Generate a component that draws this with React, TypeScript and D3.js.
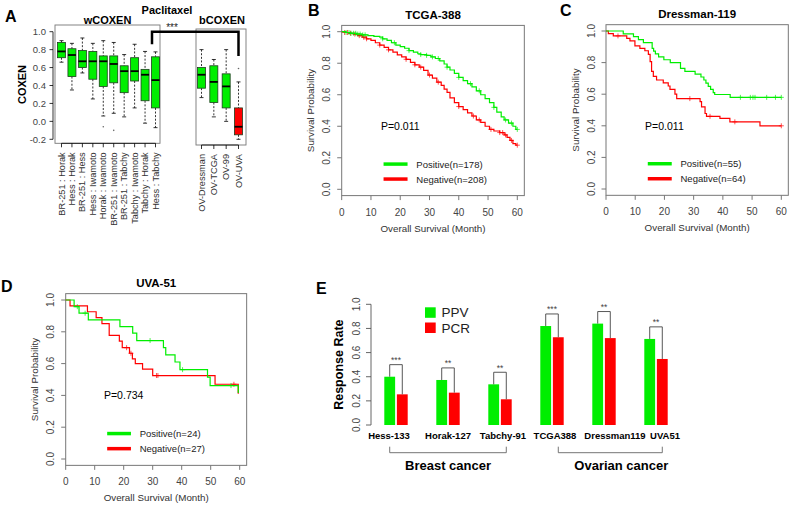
import React from 'react';
import * as d3 from 'd3';

const FONT = '"Liberation Sans", Arial, Helvetica, sans-serif';
const GREEN = '#00ee00';
const RED = '#ff0000';
const AXIS_GRAY = '#777';
const TEXT_GRAY = '#444';

// ---------- Panel A: COXEN boxplots ----------
const wNames = [
  'BR-251 : Horak', 'Hess : Horak', 'BR-251 : Hess', 'Hess : Iwamoto', 'Horak : Iwamoto',
  'BR-251 : Iwamoto', 'BR-251 : Tabchy', 'Tabchy : Iwamoto', 'Tabchy : Horak', 'Hess : Tabchy',
];
// [low whisker, Q1, median, Q3, high whisker]
const wBoxes = [
  [0.66, 0.71, 0.78, 0.88, 0.9],
  [0.35, 0.5, 0.74, 0.81, 0.87],
  [0.54, 0.6, 0.67, 0.79, 0.93],
  [0.25, 0.47, 0.67, 0.78, 0.87],
  [0.06, 0.39, 0.67, 0.73, 0.9],
  [0.09, 0.43, 0.64, 0.73, 0.88],
  [0.05, 0.32, 0.56, 0.62, 0.745],
  [0.15, 0.45, 0.56, 0.71, 0.86],
  [-0.02, 0.23, 0.52, 0.58, 0.78],
  [-0.07, 0.15, 0.46, 0.72, 0.775],
];
const wOutliers: [string, number][] = [['Horak : Iwamoto', -0.06], ['BR-251 : Iwamoto', -0.1]];

const bNames = ['OV-Dressman', 'OV-TCGA', 'OV-99', 'OV-UVA'];
const bBoxes = [
  [0.265, 0.37, 0.52, 0.6, 0.8],
  [0.05, 0.21, 0.44, 0.62, 0.69],
  [0.0, 0.15, 0.39, 0.53, 0.8],
  [-0.2, -0.15, -0.06, 0.15, 0.44],
];
const bOutliers: [string, number][] = [['OV-UVA', 0.59]];
const bNegative = 'OV-UVA';
const aTicks = [-0.2, 0, 0.2, 0.4, 0.6, 0.8, 1.0];

// ---------- Panels B-D: Kaplan-Meier (month, survival) steps ----------
type Step = [number, number];
const tcgaPos: Step[] = [
  [0, 1], [1.5, 0.995], [3, 0.99], [5, 0.985], [7, 0.98], [9, 0.975], [11, 0.97], [13, 0.965],
  [14, 0.955], [15.5, 0.945], [17, 0.93], [18.5, 0.915], [20, 0.905], [21.5, 0.895], [23, 0.88],
  [24.5, 0.87], [26, 0.86], [27, 0.855], [29, 0.85], [30.5, 0.84], [32, 0.83], [33.5, 0.815],
  [35, 0.795], [36, 0.775], [37, 0.757], [38.5, 0.735], [40, 0.71], [41.5, 0.69], [43, 0.67],
  [44.5, 0.65], [46, 0.625], [47.5, 0.6], [49, 0.575], [50.5, 0.55], [52, 0.52], [53, 0.49],
  [54.5, 0.46], [55.5, 0.44], [57, 0.42], [58.5, 0.4], [59.5, 0.38],
];
const tcgaNeg: Step[] = [
  [0, 1], [1, 0.995], [2.5, 0.99], [4, 0.985], [5.5, 0.975], [7, 0.965], [8.5, 0.955], [10, 0.945],
  [11.5, 0.93], [13, 0.915], [14.5, 0.9], [16, 0.885], [17.5, 0.87], [19, 0.853], [20.5, 0.84],
  [22, 0.825], [23.5, 0.805], [25, 0.79], [26.5, 0.775], [28, 0.755], [29.5, 0.725], [31, 0.705],
  [32.5, 0.68], [34, 0.66], [35, 0.635], [36, 0.615], [37, 0.58], [38.5, 0.55], [40, 0.525],
  [41.5, 0.505], [43, 0.485], [44.5, 0.465], [46, 0.44], [47.5, 0.425], [49, 0.4], [50.5, 0.38],
  [52, 0.37], [54, 0.36], [55.5, 0.345], [56.5, 0.33], [57.5, 0.31], [58.5, 0.29], [59.5, 0.28],
];
const tcgaPosCens = [1.5, 2.5, 3.2, 4, 4.8, 5.5, 6.3, 7.2, 8, 14, 18, 23, 27, 29, 31, 33, 36, 40, 44, 47, 52, 56, 58, 60];
const tcgaNegCens = [1, 2, 3, 4.5, 6, 7.5, 8.5, 13, 16, 22, 25, 27, 30, 33, 40, 45, 47, 51, 54, 55, 56, 58, 60];

const dressPos: Step[] = [
  [0, 1], [5.9, 0.982], [9.4, 0.964], [11.1, 0.945], [12.8, 0.927], [15.8, 0.89], [16.3, 0.873],
  [16.9, 0.855], [18, 0.836], [19.8, 0.818], [22, 0.8], [25.5, 0.764], [27, 0.745], [30.5, 0.727],
  [32.5, 0.709], [33.5, 0.69], [34.2, 0.67], [35, 0.65], [35.8, 0.63], [36.7, 0.61], [37.2, 0.598],
  [42.5, 0.58],
];
const dressNeg: Step[] = [
  [0, 1], [0.8, 0.984], [2.5, 0.969], [7.1, 0.953], [8.2, 0.937], [9.9, 0.906], [11.6, 0.89],
  [13.3, 0.875], [14.5, 0.852], [15.1, 0.806], [15.6, 0.744], [16.2, 0.713], [17.3, 0.69],
  [19.6, 0.672], [21.3, 0.652], [21.9, 0.63], [23.6, 0.6], [24.2, 0.572], [32.2, 0.553],
  [32.7, 0.52], [33.9, 0.478], [34.4, 0.46], [39, 0.447], [42.4, 0.425], [52.7, 0.4],
];
const dressPosCens = [46, 49.4, 50.3, 51, 55, 58, 60];
const dressNegCens = [4.1, 28.7, 35.6, 44.1, 60];

const uvaPos: Step[] = [
  [0, 1], [2.9, 0.958], [4.6, 0.917], [7.8, 0.875], [18.7, 0.833], [23.1, 0.792], [24.5, 0.745],
  [33.7, 0.7], [34.5, 0.655], [37.7, 0.61], [39.4, 0.562], [48.9, 0.515], [49.8, 0.462], [59.5, 0.415],
];
const uvaNeg: Step[] = [
  [0, 1], [1.5, 0.963], [7.5, 0.926], [10.5, 0.889], [12.5, 0.852], [15, 0.778], [18.5, 0.741],
  [19.5, 0.7], [22, 0.665], [23, 0.63], [24, 0.6], [26.5, 0.565], [30, 0.525], [51.5, 0.47], [59.5, 0.41],
];
const uvaPosCens = [4, 6.7, 29.1, 40.3, 57];
const uvaNegCens = [21, 22.5, 31.3, 31.8, 58];

const kmTicksX = [0, 10, 20, 30, 40, 50, 60];
const kmTicksY = [0, 0.2, 0.4, 0.6, 0.8, 1.0];

// ---------- Panel E: response rates ----------
const cohorts = ['Hess-133', 'Horak-127', 'Tabchy-91', 'TCGA388', 'Dressman119', 'UVA51'];
const ppv = [0.4, 0.373, 0.337, 0.82, 0.84, 0.713];
const pcr = [0.254, 0.268, 0.213, 0.727, 0.72, 0.547];
const sigMarks = ['***', '**', '**', '***', '**', '**'];
const breastCohorts = ['Hess-133', 'Horak-127', 'Tabchy-91'];
const ovarianCohorts = ['TCGA388', 'Dressman119', 'UVA51'];
const eTicks = [0, 0.2, 0.4, 0.6, 0.8, 1.0];

const fmt1 = (v: number) => v.toFixed(1);

function survAt(steps: Step[], t: number) {
  let s = 1;
  for (const [tt, v] of steps) if (tt <= t) s = v;
  return s;
}

function Letter({ x, y, children }: { x: number; y: number; children: string }) {
  return (
    <text x={x} y={y} fontSize={16} fontWeight="bold" fill="#000">
      {children}
    </text>
  );
}

function BoxGroup({ names, boxes, outliers, x, y, negative }: any) {
  const bw = 8;
  return (
    <g>
      {names.map((n: string, i: number) => {
        const [lo, q1, md, q3, hi] = boxes[i];
        const cx = x(n);
        const fill = n === negative ? RED : GREEN;
        return (
          <g key={n}>
            <line x1={cx} x2={cx} y1={y(hi)} y2={y(q3)} stroke="#000" strokeWidth={0.8} strokeDasharray="2,1.6" />
            <line x1={cx} x2={cx} y1={y(q1)} y2={y(lo)} stroke="#000" strokeWidth={0.8} strokeDasharray="2,1.6" />
            <line x1={cx - 2} x2={cx + 2} y1={y(hi)} y2={y(hi)} stroke="#000" strokeWidth={0.8} />
            <line x1={cx - 2} x2={cx + 2} y1={y(lo)} y2={y(lo)} stroke="#000" strokeWidth={0.8} />
            <rect x={cx - bw / 2} y={y(q3)} width={bw} height={y(q1) - y(q3)} fill={fill} stroke="#1d3d1d" strokeWidth={0.8} />
            <line x1={cx - bw / 2} x2={cx + bw / 2} y1={y(md)} y2={y(md)} stroke="#000" strokeWidth={1.8} />
          </g>
        );
      })}
      {outliers.map(([n, v]: [string, number], i: number) => (
        <circle key={i} cx={x(n)} cy={y(v)} r={0.8} fill="#666" />
      ))}
    </g>
  );
}

function XLabels({ names, x, axisY }: any) {
  const xs = names.map((n: string) => x(n));
  return (
    <g>
      <line x1={xs[0]} x2={xs[xs.length - 1]} y1={axisY} y2={axisY} stroke="#000" strokeWidth={0.8} />
      {names.map((n: string) => (
        <g key={n}>
          <line x1={x(n)} x2={x(n)} y1={axisY} y2={axisY + 4} stroke="#000" strokeWidth={0.8} />
          <text
            transform={`translate(${x(n)},${axisY + 9}) rotate(-90)`}
            textAnchor="end"
            dominantBaseline="central"
            fontSize={9.2}
            fill="#333"
          >
            {n}
          </text>
        </g>
      ))}
    </g>
  );
}

function PanelA() {
  const y = d3.scaleLinear().domain([-0.2, 1.0]).range([139.3, 31.7]);
  const xW = d3.scalePoint<string>().domain(wNames).range([61.5, 155.5]);
  const xB = d3.scalePoint<string>().domain(bNames).range([201.5, 238.5]);
  const wFrame = { l: 55, r: 160, t: 25, b: 143.3 };
  const bFrame = { l: 196, r: 246, t: 29, b: 145 };
  const bracketY = y(1.0);
  const lastW = xW(wNames[wNames.length - 1])! - 3.5;
  const uva = xB(bNegative)!;
  return (
    <g>
      <Letter x={5} y={21.5}>A</Letter>
      <text x={167} y={14} textAnchor="middle" fontSize={11} fontWeight="bold">Paclitaxel</text>
      <text x={(wFrame.l + wFrame.r) / 2} y={23.5} textAnchor="middle" fontSize={11} fontWeight="bold">wCOXEN</text>
      <text x={(bFrame.l + bFrame.r) / 2 + 1} y={23.5} textAnchor="middle" fontSize={11} fontWeight="bold">bCOXEN</text>
      <rect x={wFrame.l} y={wFrame.t} width={wFrame.r - wFrame.l} height={wFrame.b - wFrame.t} fill="none" stroke={AXIS_GRAY} strokeWidth={0.9} />
      <rect x={bFrame.l} y={bFrame.t} width={bFrame.r - bFrame.l} height={bFrame.b - bFrame.t} fill="none" stroke={AXIS_GRAY} strokeWidth={0.9} />
      {/* y axis */}
      <line x1={53} x2={53} y1={y(1.0)} y2={y(-0.2)} stroke="#000" strokeWidth={0.8} />
      {aTicks.map((t) => (
        <g key={t}>
          <line x1={49.5} x2={53} y1={y(t)} y2={y(t)} stroke="#000" strokeWidth={0.8} />
          <text x={46} y={y(t)} textAnchor="end" dominantBaseline="central" fontSize={9.5} fill={TEXT_GRAY}>
            {fmt1(t)}
          </text>
        </g>
      ))}
      <text transform={`translate(22,${(y(1.0) + y(-0.2)) / 2 - 1}) rotate(-90)`} textAnchor="middle" dominantBaseline="central" fontSize={11} fontWeight="bold">
        COXEN
      </text>
      <BoxGroup names={wNames} boxes={wBoxes} outliers={wOutliers} x={xW} y={y} />
      <BoxGroup names={bNames} boxes={bBoxes} outliers={bOutliers} x={xB} y={y} negative={bNegative} />
      <XLabels names={wNames} x={xW} axisY={wFrame.b} />
      <XLabels names={bNames} x={xB} axisY={bFrame.b} />
      {/* significance bracket */}
      <path
        d={`M${lastW},${y(0.86)} V${bracketY} H${uva} V${y(0.73)}`}
        fill="none"
        stroke="#000"
        strokeWidth={2.5}
      />
      <text x={172} y={31} textAnchor="middle" fontSize={10} fill="#222">***</text>
    </g>
  );
}

function KMPanel(props: {
  xr: [number, number];
  yr: [number, number];
  title: string;
  pos: Step[];
  neg: Step[];
  posCens: number[];
  negCens: number[];
  posLabel: string;
  negLabel: string;
  pLabel: string;
}) {
  const { xr, yr, title, pos, neg, posCens, negCens, posLabel, negLabel, pLabel } = props;
  const x = d3.scaleLinear().domain([0, 60]).range(xr);
  const y = d3.scaleLinear().domain([0, 1]).range(yr);
  const left = x(0);
  const right = x(62.4);
  const top = y(1.04);
  const bottom = y(-0.04);
  const line = d3
    .line<Step>()
    .x((d) => x(d[0]))
    .y((d) => y(d[1]))
    .curve(d3.curveStepAfter);
  const extend = (steps: Step[], cens: number[]): Step[] => {
    const last = steps[steps.length - 1];
    const end = Math.max(d3.max(cens) ?? 0, last[0]);
    return [...steps, [end, last[1]]];
  };
  const curves = [
    { steps: neg, cens: negCens, color: RED },
    { steps: pos, cens: posCens, color: GREEN },
  ];
  return (
    <g>
      <text x={(left + right) / 2} y={top - 6.5} textAnchor="middle" fontSize={11.5} fontWeight="bold">
        {title}
      </text>
      <rect x={left} y={top} width={right - left} height={bottom - top} fill="none" stroke={AXIS_GRAY} strokeWidth={1} />
      {kmTicksX.map((t) => (
        <g key={t}>
          <line x1={x(t)} x2={x(t)} y1={bottom} y2={bottom + 4.5} stroke={AXIS_GRAY} />
          <text x={x(t)} y={bottom + 20} textAnchor="middle" fontSize={10} fill={TEXT_GRAY}>
            {t}
          </text>
        </g>
      ))}
      {kmTicksY.map((t) => (
        <g key={t}>
          <line x1={left - 4.5} x2={left} y1={y(t)} y2={y(t)} stroke={AXIS_GRAY} />
          <text transform={`translate(${left - 15},${y(t)}) rotate(-90)`} textAnchor="middle" dominantBaseline="central" fontSize={10} fill={TEXT_GRAY}>
            {fmt1(t)}
          </text>
        </g>
      ))}
      <text transform={`translate(${left - 31},${(top + bottom) / 2}) rotate(-90)`} textAnchor="middle" dominantBaseline="central" fontSize={9.8} fill="#333">
        Survival Probability
      </text>
      <text x={(left + right) / 2} y={bottom + 36} textAnchor="middle" fontSize={9.8} fill="#333">
        Overall Survival (Month)
      </text>
      {curves.map((c, i) => (
        <g key={i}>
          <path d={line(extend(c.steps, c.cens)) ?? ''} fill="none" stroke={c.color} strokeWidth={1.2} />
          {c.cens.map((t, j) => {
            const cx = x(t);
            const cy = y(survAt(c.steps, t));
            return (
              <path key={j} d={`M${cx - 2.5},${cy}H${cx + 2.5}M${cx},${cy - 2.5}V${cy + 2.5}`} stroke={c.color} strokeWidth={0.8} opacity={0.85} />
            );
          })}
        </g>
      ))}
      <text x={x(20)} y={y(0.4)} textAnchor="middle" dominantBaseline="central" fontSize={10.5}>
        {pLabel}
      </text>
      {[
        { label: posLabel, color: GREEN, v: 0.16 },
        { label: negLabel, color: RED, v: 0.065 },
      ].map((l) => (
        <g key={l.label}>
          <line x1={x(14.3)} x2={x(22.5)} y1={y(l.v)} y2={y(l.v)} stroke={l.color} strokeWidth={3.5} />
          <text x={x(25.5)} y={y(l.v)} dominantBaseline="central" fontSize={9.5} fill="#222">
            {l.label}
          </text>
        </g>
      ))}
    </g>
  );
}

function PanelE() {
  const x = d3.scaleBand<string>().domain(cohorts).range([370, 682]);
  const sub = d3.scaleBand<string>().domain(['PPV', 'PCR']).range([-11.7, 11.7]).paddingInner(0.14);
  const y = d3.scaleLinear().domain([0, 1]).range([425, 304.3]);
  const axisX = 371;
  const cx = (c: string) => x(c)! + x.bandwidth() / 2;
  // label placement in the original is not exactly centred on each group
  const labelNudge: Record<string, number> = {
    'Hess-133': -7, 'Horak-127': 0, 'Tabchy-91': 3, TCGA388: 3, Dressman119: 11, UVA51: 9,
  };
  const groups = [
    { name: 'Breast cancer', members: breastCohorts, from: 'PPV', to: 'PCR', shift: 0 },
    { name: 'Ovarian cancer', members: ovarianCohorts, from: 'PCR', to: 'PCR', shift: 11 },
  ];
  const bracketY = 452.7;
  return (
    <g>
      <Letter x={316} y={294}>E</Letter>
      <line x1={axisX} x2={axisX} y1={y(0)} y2={y(1)} stroke="#555" strokeWidth={0.9} />
      {eTicks.map((t) => (
        <g key={t}>
          <line x1={axisX - 5} x2={axisX} y1={y(t)} y2={y(t)} stroke="#555" strokeWidth={0.9} />
          <text transform={`translate(${axisX - 14.5},${y(t)}) rotate(-90)`} textAnchor="middle" dominantBaseline="central" fontSize={10} fill={TEXT_GRAY}>
            {fmt1(t)}
          </text>
        </g>
      ))}
      <text transform={`translate(${axisX - 32},${y(0.5)}) rotate(-90)`} textAnchor="middle" dominantBaseline="central" fontSize={12.5} fontWeight="bold">
        Response Rate
      </text>
      {cohorts.map((c, i) => {
        const gx = cx(c);
        const px = gx + sub('PPV')! + sub.bandwidth() / 2;
        const rx = gx + sub('PCR')! + sub.bandwidth() / 2;
        const top = y(ppv[i] + 0.1);
        return (
          <g key={c}>
            <rect x={gx + sub('PPV')!} y={y(ppv[i])} width={sub.bandwidth()} height={y(0) - y(ppv[i])} fill={GREEN} />
            <rect x={gx + sub('PCR')!} y={y(pcr[i])} width={sub.bandwidth()} height={y(0) - y(pcr[i])} fill={RED} />
            <path d={`M${px},${y(ppv[i])} V${top} H${rx} V${y(pcr[i])}`} fill="none" stroke="#444" strokeWidth={0.9} />
            <text x={(px + rx) / 2} y={top - 1.5} textAnchor="middle" fontSize={8.5} fill="#444">
              {sigMarks[i]}
            </text>
            <text x={gx + (labelNudge[c] ?? 0)} y={y(0) + 14} textAnchor="middle" fontSize={9.5} fontWeight="bold">
              {c}
            </text>
          </g>
        );
      })}
      {groups.map((g) => {
        const a = cx(g.members[0]) + sub(g.from)! + sub.bandwidth() / 2;
        const b = cx(g.members[g.members.length - 1]) + sub(g.to)! + sub.bandwidth() / 2;
        return (
          <g key={g.name}>
            <path d={`M${a},${bracketY - 6} V${bracketY} H${b} V${bracketY - 6}`} fill="none" stroke="#666" strokeWidth={0.9} />
            <text x={(a + b) / 2 + g.shift} y={bracketY + 17.5} textAnchor="middle" fontSize={13} fontWeight="bold">
              {g.name}
            </text>
          </g>
        );
      })}
      {[
        { label: 'PPV', color: GREEN, yy: 307.3 },
        { label: 'PCR', color: RED, yy: 322.5 },
      ].map((l) => (
        <g key={l.label}>
          <rect x={425} y={l.yy} width={10.7} height={10.5} fill={l.color} />
          <text x={441.5} y={l.yy + 5.5} dominantBaseline="central" fontSize={13.5} fill="#222">
            {l.label}
          </text>
        </g>
      ))}
    </g>
  );
}

export default function App() {
  return (
    <svg width={791} height={505} style={{ display: 'block', position: 'absolute', left: 0, top: 0, background: '#fff' }} fontFamily={FONT}>
      <rect width={791} height={505} fill="#fff" />
      <PanelA />
      <Letter x={308} y={15.5}>B</Letter>
      <KMPanel
        xr={[341.7, 517.3]}
        yr={[189.3, 31.7]}
        title="TCGA-388"
        pos={tcgaPos}
        neg={tcgaNeg}
        posCens={tcgaPosCens}
        negCens={tcgaNegCens}
        posLabel="Positive(n=178)"
        negLabel="Negative(n=208)"
        pLabel="P=0.011"
      />
      <Letter x={560} y={16}>C</Letter>
      <KMPanel
        xr={[606, 781.3]}
        yr={[189, 31]}
        title="Dressman-119"
        pos={dressPos}
        neg={dressNeg}
        posCens={dressPosCens}
        negCens={dressNegCens}
        posLabel="Positive(n=55)"
        negLabel="Negative(n=64)"
        pLabel="P=0.011"
      />
      <Letter x={1} y={292.3}>D</Letter>
      <KMPanel
        xr={[65.7, 239.7]}
        yr={[459, 300]}
        title="UVA-51"
        pos={uvaPos}
        neg={uvaNeg}
        posCens={uvaPosCens}
        negCens={uvaNegCens}
        posLabel="Positive(n=24)"
        negLabel="Negative(n=27)"
        pLabel="P=0.734"
      />
      <PanelE />
    </svg>
  );
}
